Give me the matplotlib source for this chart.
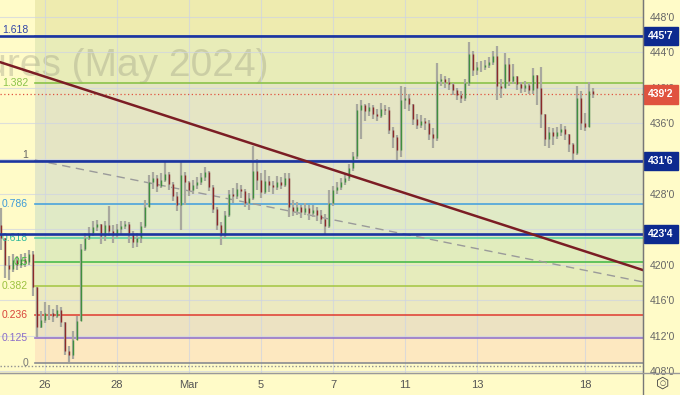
import numpy as np
import matplotlib
matplotlib.use('Agg')
import matplotlib.pyplot as plt
from matplotlib.lines import Line2D
import matplotlib.transforms as mtrans

plt.rcParams['font.family'] = ['Liberation Sans', 'DejaVu Sans']

# hourly-ish bars, 9 per trading day, day 0 = Feb 26
bars_per_day = 9
first_bar_day = -44 / 36

closes = [423.0, 420.0, 419.5, 420.5, 420.0, 420.6, 420.3, 421.2, 417.5, 413.0,
          413.8, 414.6, 414.5, 414.2, 414.9, 413.5, 410.2, 409.8, 411.5, 413.6,
          421.8, 423.0, 423.6, 424.3, 424.6, 423.2, 424.5, 423.8, 423.4, 424.0,
          424.4, 424.6, 423.6, 422.6, 423.0, 424.4, 426.5, 429.3, 429.8, 428.9,
          429.6, 430.3, 429.1, 427.8, 426.8, 430.2, 429.3, 428.5, 429.0, 429.4,
          429.9, 430.5, 428.8, 426.3, 424.5, 423.4, 425.6, 428.0, 427.8, 428.6,
          428.3, 427.0, 427.5, 430.6, 429.6, 428.2, 429.5, 429.0, 428.8, 429.4,
          429.0, 429.8, 426.5, 426.1, 426.5, 426.0, 426.4, 425.8, 426.2, 425.6,
          425.2, 424.4, 427.0, 428.4, 428.8, 429.3, 429.8, 430.9, 432.3, 437.5,
          438.0, 437.4, 437.8, 437.0, 436.8, 437.6, 437.5, 435.2, 434.4, 433.0,
          438.6, 438.9, 438.2, 436.5, 435.8, 436.2, 436.0, 434.8, 434.3, 440.8,
          441.0, 440.7, 440.4, 439.8, 439.2, 438.9, 440.5, 443.8, 442.0, 442.3,
          442.4, 442.6, 442.9, 443.6, 440.2, 440.0, 442.7, 440.8, 441.3, 440.4,
          440.0, 440.3, 439.7, 441.5, 440.0, 437.0, 434.2, 435.0, 434.6, 435.0,
          435.3, 434.8, 433.6, 432.6, 438.8, 436.0, 435.6, 439.6, 439.25]
highs = [426.4, 421.5, 421.0, 421.2, 421.0, 421.2, 421.3, 421.7, 421.5, 416.8,
         414.8, 415.8, 415.5, 415.0, 415.4, 415.2, 413.4, 410.8, 412.5, 414.2,
         422.4, 423.6, 424.3, 424.9, 425.1, 424.6, 425.0, 426.6, 424.5, 424.6,
         424.9, 425.0, 424.8, 423.8, 423.6, 424.8, 427.3, 430.2, 430.5, 430.1,
         430.4, 431.7, 430.5, 429.4, 428.2, 431.8, 430.5, 429.5, 429.6, 429.9,
         430.4, 431.1, 430.6, 429.0, 426.5, 424.8, 426.1, 428.4, 428.7, 429.2,
         429.0, 428.6, 428.1, 433.4, 431.9, 430.4, 430.7, 430.0, 429.5, 430.0,
         429.9, 430.4, 430.4, 427.3, 427.1, 426.8, 427.0, 426.7, 426.8, 426.5,
         426.2, 425.7, 428.5, 428.9, 429.4, 429.8, 430.4, 431.4, 432.8, 438.2,
         438.6, 438.2, 438.3, 438.0, 437.6, 438.3, 438.1, 437.8, 435.6, 434.7,
         440.2, 440.1, 439.3, 437.8, 437.0, 436.9, 436.6, 436.4, 435.5, 442.8,
         441.6, 441.3, 441.1, 440.5, 440.0, 439.6, 441.0, 445.2, 444.2, 442.9,
         443.0, 443.1, 443.5, 444.2, 444.7, 441.0, 443.9, 443.4, 442.7, 441.2,
         440.6, 440.8, 440.5, 442.2, 441.3, 442.3, 436.2, 435.6, 435.5, 435.6,
         435.9, 435.7, 434.6, 433.8, 440.2, 439.6, 437.2, 440.6, 440.0]
lows = [421.7, 418.5, 418.3, 419.2, 419.4, 419.6, 419.8, 420.0, 416.5, 411.8,
        412.8, 413.4, 413.8, 413.5, 414.0, 413.0, 409.8, 409.0, 409.3, 411.6,
        413.6, 421.5, 422.8, 423.3, 423.8, 422.4, 422.7, 423.2, 422.5, 423.0,
        423.5, 424.0, 422.5, 421.9, 422.0, 422.5, 424.2, 426.5, 428.6, 428.2,
        428.7, 429.3, 428.4, 427.2, 426.1, 423.9, 426.8, 427.8, 428.0, 428.6,
        429.0, 429.5, 428.3, 425.8, 423.9, 422.2, 423.0, 425.4, 427.0, 427.4,
        427.6, 426.5, 426.2, 427.3, 428.4, 427.6, 428.0, 428.2, 428.0, 428.4,
        428.6, 428.8, 425.4, 425.5, 425.6, 425.3, 425.6, 425.1, 425.4, 425.0,
        424.6, 423.4, 424.2, 426.6, 428.0, 428.5, 429.0, 429.5, 430.6, 432.0,
        434.2, 436.3, 436.8, 436.5, 436.2, 436.6, 436.9, 434.8, 433.2, 431.8,
        432.2, 437.6, 437.4, 435.8, 435.3, 435.4, 435.2, 434.1, 433.2, 434.0,
        440.2, 440.0, 439.8, 439.2, 438.6, 438.3, 438.5, 440.2, 441.3, 441.5,
        441.8, 442.0, 442.2, 442.6, 438.6, 438.8, 440.5, 440.2, 440.4, 439.8,
        439.4, 439.5, 439.3, 439.3, 438.0, 435.4, 433.4, 433.2, 433.5, 434.2,
        434.5, 434.1, 432.7, 431.8, 432.4, 435.2, 435.1, 435.8, 438.8]
first_open = 424.5

date_ticks = [0, 2, 4, 6, 8, 10, 12, 15]
date_labels = ['26', '28', 'Mar', '5', '7', '11', '13', '18']
price_ticks = list(range(408, 449, 4))

# fibonacci retracement
fib_start_day = -0.28
fib_zero = 408.875
fib_one = 431.75
fib_levels = [0, 0.125, 0.236, 0.382, 0.5, 0.618, 0.786, 1, 1.382, 1.618]
fib_labels = ['0', '0.125', '0.236', '0.382', '0.5', '0.618', '0.786', '1', '1.382', '1.618']
fib_colors = ['#8a8c90', '#9575cd', '#e0473a', '#a8c84a', '#4cbb4c', '#5ad3a0',
              '#4aa3dc', '#8a8c90', '#8bc34a', '#7d8cc4']
fib_text_colors = ['#777777', '#8a6cc8', '#d9433a', '#9cc23e', '#3dbb3d', '#2fb89a',
                   '#3d9ad8', '#666666', '#8bc34a', '#3246a8']
fib_fills = ['#fde8c0', '#ece2c2', '#ece9c0', '#e6ecbc', '#e1ecbd', '#e0eac6',
             '#e3e7c8', '#e5e5c4', '#e8ecb8', '#eeebaf']

# horizontal lines and trend lines
hlines_blue = [445.875, 431.75, 423.5]
last_price = 439.25
low_line = 408.6
trend_red = [(-1.25, 442.9), (16.61, 419.4)]
trend_dash = [(-0.28, 431.84), (16.61, 418.06)]


def fmt(p):
    whole = int(np.floor(p + 1e-9))
    return "%d'%d" % (whole, round((p - whole) * 8))


bg = '#fffbc8'
fig = plt.figure(figsize=(6.8, 3.95), dpi=100, facecolor=bg)
ax = fig.add_axes([0, 22 / 395, 643 / 680, 373 / 395], facecolor=bg)
xmin, xmax = -1.25, 16.61
ymin, ymax = 407.77, 449.92
ax.set_xlim(xmin, xmax)
ax.set_ylim(ymin, ymax)

# watermark
ax.text(268 / 643, 1 - 76 / 373, 'Corn Futures (May 2024)', transform=ax.transAxes,
        ha='right', va='baseline', fontsize=28, color='#8a8a78', alpha=0.3, zorder=1)

# fib zones
prices = [fib_zero + l * (fib_one - fib_zero) for l in fib_levels]
edges = prices + [ymax]
for i in range(len(prices)):
    ax.fill_between([fib_start_day, xmax], edges[i], edges[i + 1], color=fib_fills[i],
                    lw=0, zorder=0.5)

# grid
for p in price_ticks:
    ax.axhline(p, color='#cfd4e2', lw=0.8, alpha=0.7, zorder=1)
for d in date_ticks:
    ax.axvline(d, color='#cfd4e2', lw=0.8, alpha=0.7, zorder=1)

tr = mtrans.blended_transform_factory(ax.transAxes, ax.transData)
for lvl, p, lab, c, tc in zip(fib_levels, prices, fib_labels, fib_colors, fib_text_colors):
    ax.plot([fib_start_day, xmax], [p, p], color=c, lw=1.2, zorder=2)
    va = 'bottom' if lvl in (1, 1.618) else 'center'
    ax.text(28 / 643, p + (0.1 if va == 'bottom' else 0), lab, transform=tr, ha='right',
            va=va, fontsize=7.5, color=tc, zorder=6)

ax.axhline(low_line, color='#909090', lw=1, ls=(0, (1, 1.5)), zorder=2)
ax.axhline(last_price, color='#e0533f', lw=0.9, ls=(0, (1, 2)), zorder=2)

ax.plot([trend_dash[0][0], trend_dash[1][0]], [trend_dash[0][1], trend_dash[1][1]],
        color='#9a9a9a', lw=1, ls=(0, (6, 4)), zorder=3)

# candles
x = first_bar_day + np.arange(len(closes)) / bars_per_day
c = np.array(closes)
o = np.r_[first_open, c[:-1]]
h = np.maximum(np.array(highs), np.maximum(o, c))
l = np.minimum(np.array(lows), np.minimum(o, c))
ax.vlines(x, l, h, color='#a8a89e', lw=1.6, zorder=4)
up = c >= o
ax.vlines(x[up], o[up], c[up], color='#3f8f3f', lw=1.0, zorder=5)
ax.vlines(x[~up], o[~up], c[~up], color='#8b2a2a', lw=1.0, zorder=5)

for p in hlines_blue:
    ax.axhline(p, color='#1b35a0', lw=1.9, zorder=6)

ax.plot([trend_red[0][0], trend_red[1][0]], [trend_red[0][1], trend_red[1][1]],
        color='#7b1d24', lw=1.8, zorder=7)

# axes
for s in ['top', 'left']:
    ax.spines[s].set_visible(False)
ax.spines['right'].set_color('#777777')
ax.spines['bottom'].set_color('#999999')
ax.yaxis.tick_right()
ax.set_yticks(price_ticks)
ax.set_yticklabels([fmt(p) for p in price_ticks])
ax.tick_params(axis='y', length=0, pad=5, labelsize=7.5, labelcolor='#666666')
ax.set_xticks(date_ticks)
ax.set_xticklabels(date_labels)
ax.tick_params(axis='x', length=0, pad=5, labelsize=8, labelcolor='#555555')

fig.add_artist(Line2D([643 / 680, 643 / 680], [0, 1], color='#777777', lw=1))
fig.add_artist(Line2D([0, 1], [22 / 395, 22 / 395], color='#999999', lw=1))

# price tags on the axis
tags = [(445.875, '#0d2a8f'), (last_price, '#e0533f'), (431.75, '#0d2a8f'), (423.5, '#0d2a8f')]
for p, col in tags:
    ax.text(1.008, p, fmt(p), transform=tr, ha='left', va='center', fontsize=7.5,
            fontweight='bold', color='white', zorder=10, clip_on=False,
            bbox=dict(boxstyle='square,pad=0.4', fc=col, ec=col))

# settings icon
fig.text(663 / 680, 12 / 395, '\u2b21', ha='center', va='center', fontsize=11,
         color='#444444', family='DejaVu Sans')
fig.text(663 / 680, 12 / 395, '\u25cb', ha='center', va='center', fontsize=5,
         color='#444444', family='DejaVu Sans')

fig.savefig('out.png', dpi=100, facecolor=bg)
